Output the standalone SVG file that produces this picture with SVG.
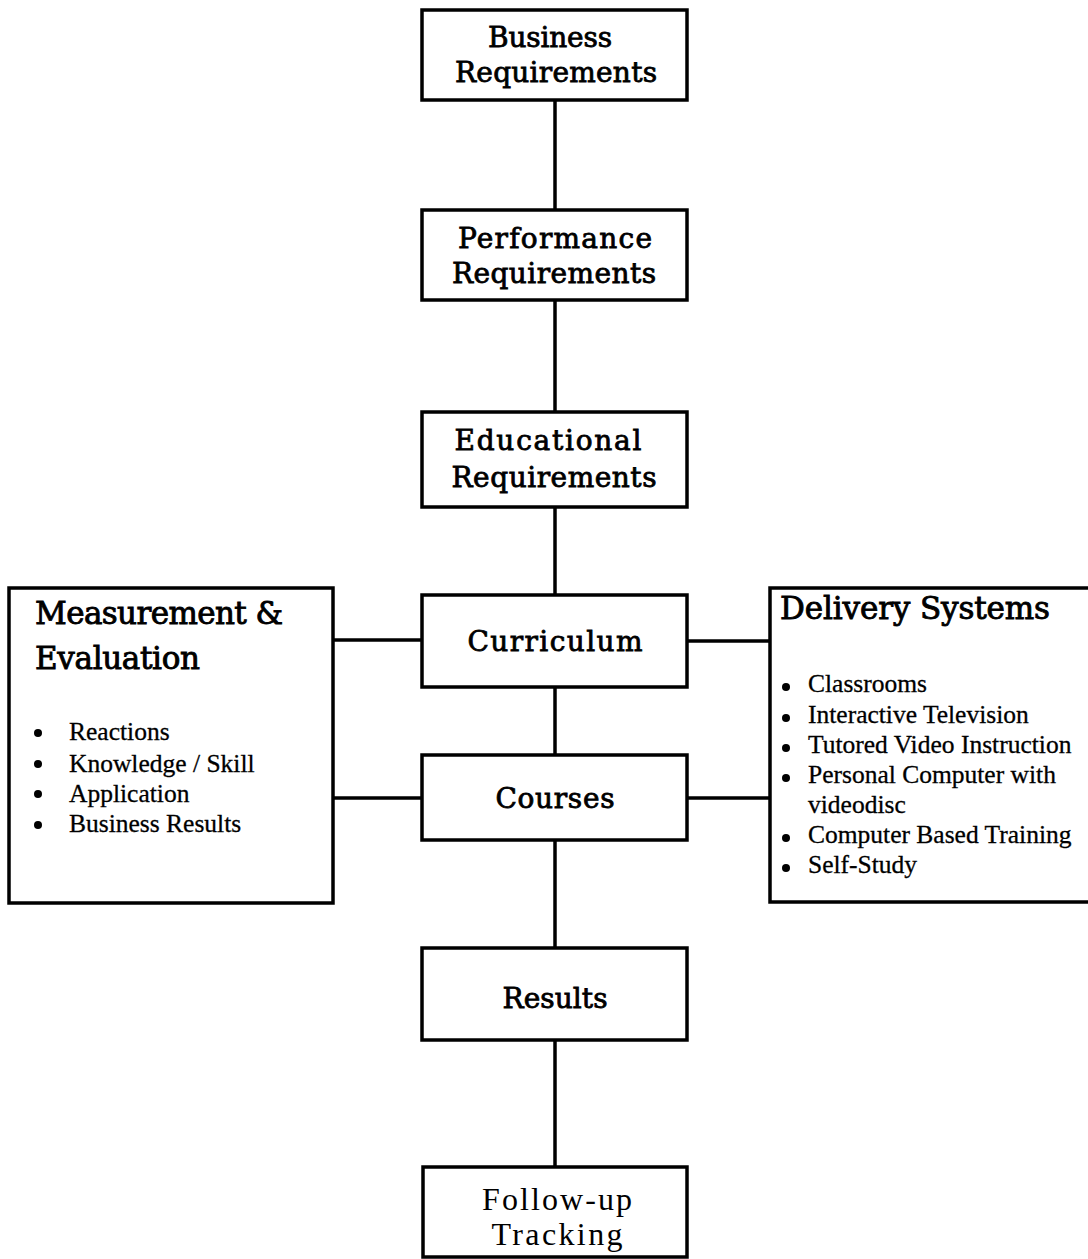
<svg xmlns="http://www.w3.org/2000/svg" width="1088" height="1259" viewBox="0 0 1088 1259">
<style>
.box{fill:#fff;stroke:#000;stroke-width:3.5}
.ln{stroke:#000;stroke-width:3.5;fill:none}
.t{font-family:"DejaVu Serif","Liberation Serif",serif;font-size:28px;fill:#000;stroke:#000;stroke-width:0.8;text-anchor:middle}
.h{font-family:"DejaVu Serif","Liberation Serif",serif;font-size:31px;fill:#000;stroke:#000;stroke-width:0.9}
.b{font-family:"Liberation Serif","Times New Roman",serif;font-size:25.5px;fill:#000;stroke:#000;stroke-width:0.3}
.f{font-family:"Liberation Serif",serif;font-size:32px;fill:#000;text-anchor:middle}
</style>
<rect width="1088" height="1259" fill="#fff"/>
<g id="connectors">
<line class="ln" x1="555" y1="100" x2="555" y2="210"/>
<line class="ln" x1="555" y1="300" x2="555" y2="412"/>
<line class="ln" x1="555" y1="507" x2="555" y2="595"/>
<line class="ln" x1="555" y1="687" x2="555" y2="755"/>
<line class="ln" x1="555" y1="840" x2="555" y2="948"/>
<line class="ln" x1="555" y1="1040" x2="555" y2="1167"/>
<line class="ln" x1="333" y1="640" x2="422" y2="640"/>
<line class="ln" x1="333" y1="798" x2="422" y2="798"/>
<line class="ln" x1="687" y1="641" x2="770" y2="641"/>
<line class="ln" x1="687" y1="798" x2="770" y2="798"/>
</g>
<g id="business">
<rect class="box" x="422" y="10" width="265" height="90"/>
<text class="t" x="550" y="47" textLength="124">Business</text>
<text class="t" x="556" y="82" textLength="202">Requirements</text>
</g>
<g id="performance">
<rect class="box" x="422" y="210" width="265" height="90"/>
<text class="t" x="555" y="248" textLength="194">Performance</text>
<text class="t" x="554" y="283" textLength="204">Requirements</text>
</g>
<g id="educational">
<rect class="box" x="422" y="412" width="265" height="95"/>
<text class="t" x="548" y="450" textLength="187">Educational</text>
<text class="t" x="554" y="487" textLength="205">Requirements</text>
</g>
<g id="curriculum">
<rect class="box" x="422" y="595" width="265" height="92"/>
<text class="t" x="555" y="651" textLength="175">Curriculum</text>
</g>
<g id="courses">
<rect class="box" x="422" y="755" width="265" height="85"/>
<text class="t" x="555" y="808" textLength="119">Courses</text>
</g>
<g id="results">
<rect class="box" x="422" y="948" width="265" height="92"/>
<text class="t" x="555" y="1008" textLength="105">Results</text>
</g>
<g id="followup">
<rect class="box" x="423" y="1167" width="264" height="90"/>
<text class="f" x="557" y="1210" textLength="150">Follow-up</text>
<text class="f" x="557" y="1245" textLength="131">Tracking</text>
</g>
<g id="measurement">
<rect class="box" x="9" y="588" width="324" height="315"/>
<text class="h" x="35" y="624" textLength="248">Measurement &amp;</text>
<text class="h" x="35" y="669" textLength="165">Evaluation</text>
<circle cx="38" cy="733" r="4"/>
<circle cx="38" cy="764" r="4"/>
<circle cx="38" cy="794" r="4"/>
<circle cx="38" cy="825" r="4"/>
<text class="b" x="69" y="740">Reactions</text>
<text class="b" x="69" y="772">Knowledge / Skill</text>
<text class="b" x="69" y="802">Application</text>
<text class="b" x="69" y="832">Business Results</text>
</g>
<g id="delivery">
<rect class="box" x="770" y="588" width="330" height="314"/>
<text class="h" x="780" y="619" textLength="270">Delivery Systems</text>
<circle cx="786" cy="687" r="4"/>
<circle cx="786" cy="718" r="4"/>
<circle cx="786" cy="748" r="4"/>
<circle cx="786" cy="778" r="4"/>
<circle cx="786" cy="838" r="4"/>
<circle cx="786" cy="868" r="4"/>
<text class="b" x="808" y="692" font-size="26.5">Classrooms</text>
<text class="b" x="808" y="723" font-size="26.5">Interactive Television</text>
<text class="b" x="808" y="753" font-size="26.5">Tutored Video Instruction</text>
<text class="b" x="808" y="783" font-size="26.5">Personal Computer with</text>
<text class="b" x="808" y="813" font-size="26.5">videodisc</text>
<text class="b" x="808" y="843" font-size="26.5">Computer Based Training</text>
<text class="b" x="808" y="873" font-size="26.5">Self-Study</text>
</g>
</svg>
